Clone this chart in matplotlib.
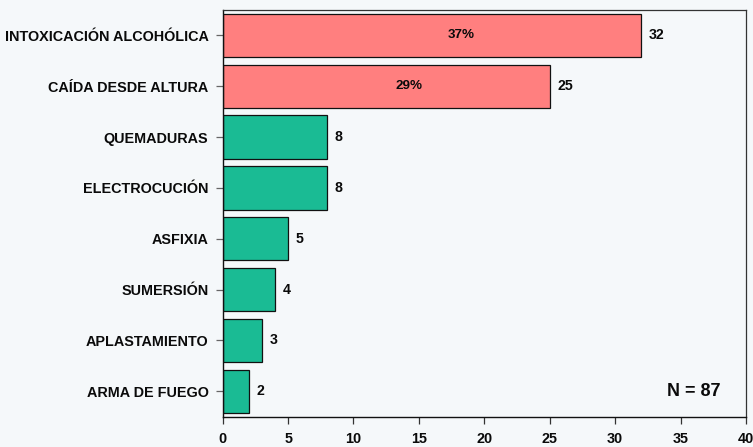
import matplotlib
matplotlib.use("Agg")
import matplotlib.pyplot as plt

plt.rcParams['font.family'] = ['Liberation Sans', 'DejaVu Sans']
plt.rcParams['font.weight'] = 'bold'

categories = ["INTOXICACIÓN ALCOHÓLICA", "CAÍDA DESDE ALTURA", "QUEMADURAS",
              "ELECTROCUCIÓN", "ASFIXIA", "SUMERSIÓN", "APLASTAMIENTO", "ARMA DE FUEGO"]
values = [32, 25, 8, 8, 5, 4, 3, 2]
percent_labels = ["37%", "29%", "", "", "", "", "", ""]
x_ticks = [0, 5, 10, 15, 20, 25, 30, 35, 40]
total_label = "N = 87"

highlight = "#FF7F7F"
normal = "#1ABB94"
bg = "#F5F8FA"

fig = plt.figure(figsize=(7.53, 4.47), dpi=100, facecolor=bg)
ax = fig.add_axes([0.2957, 0.0678, 0.9907 - 0.2957, 0.9776 - 0.0678], facecolor=bg)

ypos = list(range(len(categories)))
colors = [highlight if p else normal for p in percent_labels]
ax.barh(ypos, values, height=0.85, color=colors, edgecolor="#111111", linewidth=0.9)

ax.set_xlim(0, 40)
ax.set_ylim(len(categories) - 0.5, -0.5)
ax.set_yticks(ypos)
ax.set_yticklabels(categories, fontsize=10.4, fontweight='bold', color="#0a0a0a")
ax.set_xticks(x_ticks)
ax.set_xticklabels([str(t) for t in x_ticks], fontsize=10.4, fontweight='bold', color="#0a0a0a")

ax.tick_params(axis='y', length=4.7, width=0.9, color="#666666", pad=5.5)
ax.tick_params(axis='x', length=4.7, width=0.9, color="#333333", pad=6.0)

for side in ['left', 'bottom']:
    ax.spines[side].set_color("#111111")
    ax.spines[side].set_linewidth(1.0)
for side in ['top', 'right']:
    ax.spines[side].set_color("#333333")
    ax.spines[side].set_linewidth(0.9)

for y, v, p in zip(ypos, values, percent_labels):
    ax.annotate(str(v), xy=(v, y), xytext=(5.5, 0), textcoords='offset points',
                ha='left', va='center', fontsize=10.2, fontweight='bold', color="#0a0a0a")
    if p:
        ax.text(v * 0.57, y, p, ha='center', va='center', fontsize=9.6,
                fontweight='bold', color="#0a0a0a")

ax.text(36.0, 7.0, total_label, ha='center', va='center', fontsize=13,
        fontweight='bold', color="#0a0a0a")

fig.savefig("out.png", dpi=100, facecolor=bg)
